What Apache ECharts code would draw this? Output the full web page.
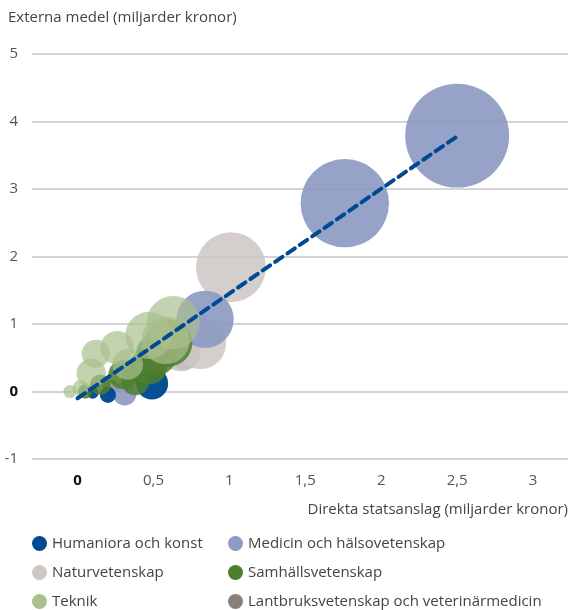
<!DOCTYPE html>
<html><head><meta charset="utf-8">
<script src="https://cdn.jsdelivr.net/npm/echarts@6/dist/echarts.min.js"></script>
<style>html,body{margin:0;padding:0;background:#fff}#c{width:568px;height:610px}</style>
</head><body><div id="c"></div>
<script>
// [direkta statsanslag, externa medel, total] (miljarder kronor)
const humaniora = [[0.49,0.12,0.61],[0.2,-0.05,0.15],[0.1,-0.02,0.08]];
const medicin = [[2.5,3.79,6.29],[1.76,2.79,4.55],[0.84,1.07,1.91],[0.31,-0.03,0.33]];
const natur = [[1.01,1.84,2.85],[0.81,0.71,1.52],[0.68,0.6,0.95],[0.4,0.3,0.55]];
const samhalls = [[0.6,0.72,1.3],[0.52,0.55,1.0],[0.47,0.38,0.8],[0.3,0.25,0.5],[0.38,0.15,0.45],[0.15,0.1,0.25],[0.05,0.0,0.12]];
const teknik = [[0.63,1.02,1.65],[0.47,0.83,1.3],[0.58,0.76,1.35],[0.26,0.65,0.65],[0.12,0.56,0.46],[0.09,0.27,0.5],[-0.05,0.0,0.1],[0.33,0.4,0.55],[0.02,0.05,0.15]];
const lantbruk = [[0.7,0.56,0.6],[0.22,0.06,0.15]];
const trend = [[0,-0.1],[2.5,3.78]];
const xTicks = [0,0.5,1,1.5,2,2.5,3];
const yTitle = 'Externa medel (miljarder kronor)';
const xTitle = 'Direkta statsanslag (miljarder kronor)';
const names = ['Humaniora och konst','Medicin och hälsovetenskap','Naturvetenskap','Samhällsvetenskap','Teknik','Lantbruksvetenskap och veterinärmedicin'];
const colors = {
  'Humaniora och konst':'#004a93',
  'Medicin och hälsovetenskap':'#8e9bc4',
  'Naturvetenskap':'#cdc7c4',
  'Samhällsvetenskap':'#4e7f2d',
  'Teknik':'#a9bf8d',
  'Lantbruksvetenskap och veterinärmedicin':'#8b7f7a'
};
const FONT = '"Open Sans", sans-serif';
function fmt(v){ return v===0 ? '{b|0}' : String(v).replace('.', ','); }
function bubble(name, data, op){
  return {
    name, type:'scatter', data,
    symbolSize: v => 41.4*Math.sqrt(v[2]),
    itemStyle:{color:colors[name], opacity:op},
    emphasis:{disabled:true}, z:2
  };
}
const chart = echarts.init(document.getElementById('c'), null, {renderer:'canvas'});
const legendItem = n => ({name:n, itemStyle:{color:colors[n], opacity:1}});
const legendBase = {top:536, orient:'vertical', padding:0, itemWidth:15, itemHeight:15, itemGap:14, icon:'circle',
  textStyle:{fontSize:15, lineHeight:15, color:'#444', fontFamily:FONT}};
chart.setOption({
  animation:false,
  textStyle:{fontFamily:FONT},
  grid:{left:32, right:0, top:54, bottom:151, containLabel:false},
  xAxis:{
    type:'value', min:-0.3, max:3.23,
    axisLine:{show:false}, axisTick:{show:false}, splitLine:{show:false},
    axisLabel:{customValues:xTicks, formatter:fmt, color:'#555', fontSize:15, margin:14, fontFamily:FONT,
      rich:{b:{color:'#111', fontSize:15, fontWeight:'bold', fontFamily:FONT}}}
  },
  yAxis:{
    type:'value', min:-1, max:5, interval:1,
    axisLine:{show:false}, axisTick:{show:false},
    splitLine:{lineStyle:{color:'#c6c6c6', width:1.5}},
    axisLabel:{formatter:fmt, color:'#555', fontSize:15, margin:14, fontFamily:FONT,
      rich:{b:{color:'#111', fontSize:15, fontWeight:'bold', fontFamily:FONT}}}
  },
  legend:[
    Object.assign({left:32, data:[names[0],names[2],names[4]].map(legendItem)}, legendBase),
    Object.assign({left:228, data:[names[1],names[3],names[5]].map(legendItem)}, legendBase)
  ],
  graphic:[
    {type:'text', left:8, top:10, style:{text:yTitle, fill:'#444', font:'15px '+FONT}},
    {type:'text', right:0, top:502, style:{text:xTitle, fill:'#444', font:'15px '+FONT}}
  ],
  series:[
    bubble('Lantbruksvetenskap och veterinärmedicin', lantbruk, 0.8),
    bubble('Naturvetenskap', natur, 0.85),
    bubble('Medicin och hälsovetenskap', medicin, 0.93),
    bubble('Humaniora och konst', humaniora, 0.97),
    bubble('Samhällsvetenskap', samhalls, 0.85),
    bubble('Teknik', teknik, 0.7),
    {type:'line', data:trend, symbol:'none', silent:true, z:5,
     lineStyle:{color:'#004a93', width:4, type:[9,6], cap:'round'}}
  ]
});
</script></body></html>
